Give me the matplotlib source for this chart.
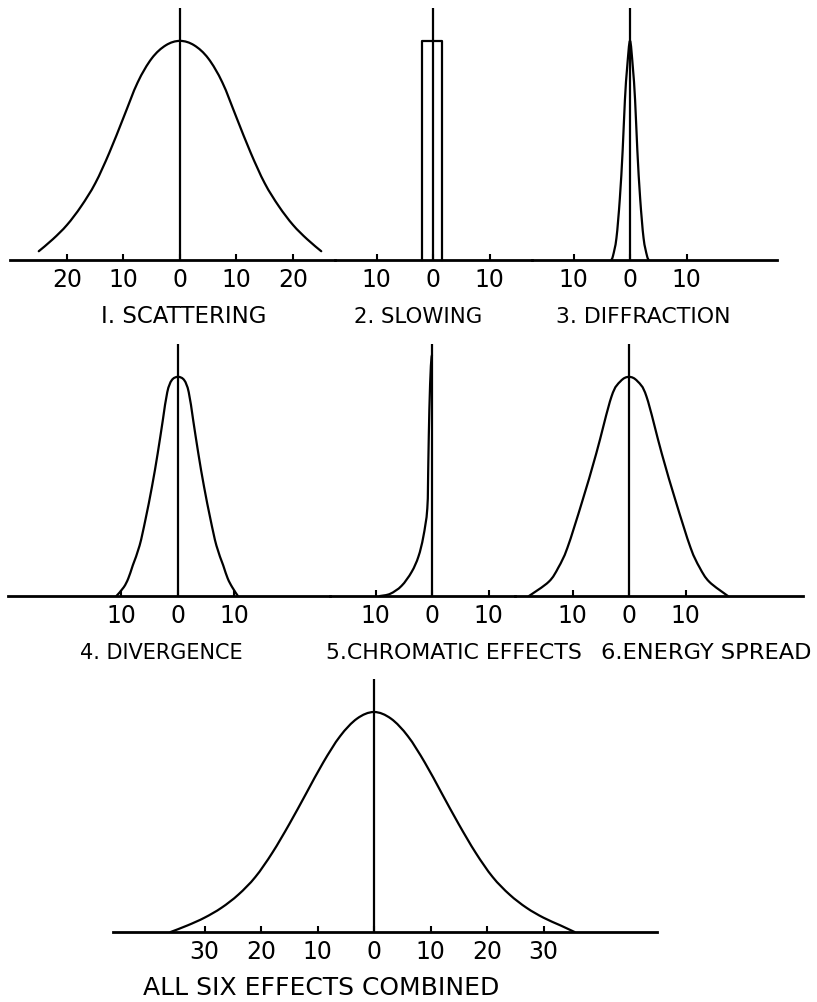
import matplotlib
matplotlib.use("Agg")
import matplotlib.pyplot as plt
from matplotlib.path import Path
from matplotlib.patches import PathPatch

# ---------------- data (x in the drawing's units, y relative to peak) -------------
scat_x = [-25, -22.5, -20, -17.5, -15, -12.5, -10, -7.5, -5, -2.5, 0,
          2.5, 5, 7.5, 10, 12.5, 15, 17.5, 20, 22.5, 25]
scat_y = [0.04, 0.095, 0.16, 0.245, 0.35, 0.49, 0.65, 0.81, 0.92, 0.98, 1.0,
          0.98, 0.92, 0.81, 0.65, 0.49, 0.35, 0.245, 0.16, 0.095, 0.04]

slow_x = [-1.95, -1.95, 1.6, 1.6]
slow_y = [0.0, 1.0, 1.0, 0.0]

diff_x = [-3.3, -3.0, -2.4, -1.8, -1.3, -0.9, -0.5, 0, 0.5, 0.9, 1.3, 1.8, 2.4, 3.0, 3.3]
diff_y = [0.0, 0.02, 0.10, 0.28, 0.50, 0.73, 0.88, 1.0, 0.88, 0.73, 0.50, 0.28, 0.10, 0.02, 0.0]

div_x = [-10.9, -9.6, -8.8, -8.0, -6.8, -5.75, -4.6, -3.6, -2.7, -1.9, -1.1, 0,
         1.1, 1.9, 2.7, 3.6, 4.6, 5.75, 6.8, 8.0, 8.8, 9.6, 10.6]
div_y = [0.0, 0.04, 0.08, 0.14, 0.23, 0.35, 0.50, 0.65, 0.80, 0.93, 0.985, 1.0,
         0.985, 0.93, 0.80, 0.65, 0.50, 0.35, 0.23, 0.14, 0.08, 0.04, 0.0]

chrom_x = [-9.2, -7.4, -5.4, -3.6, -2.4, -1.54, -0.83, -0.65, -0.47, -0.2, 0.0]
chrom_y = [0.0, 0.01, 0.046, 0.11, 0.18, 0.27, 0.40, 0.61, 0.85, 1.05, 1.1]

en_x = [-17.7, -14.2, -12.5, -10.9, -8.3, -5.8, -3.1, -1.5, 0,
        1.5, 3.1, 5.8, 8.3, 10.9, 12.5, 14.2, 17.5]
en_y = [0.0, 0.065, 0.13, 0.22, 0.43, 0.65, 0.91, 0.98, 1.0,
        0.98, 0.91, 0.65, 0.43, 0.22, 0.13, 0.065, 0.0]

comb_x = [-36, -33, -30, -27, -24, -21, -18, -15, -12, -9, -6, -3, 0,
          3, 6, 9, 12, 15, 18, 21, 24, 27, 30, 33, 35.5]
comb_y = [0.0, 0.03, 0.065, 0.11, 0.17, 0.25, 0.36, 0.49, 0.63, 0.77, 0.89, 0.97, 1.0,
          0.97, 0.89, 0.77, 0.63, 0.49, 0.36, 0.25, 0.17, 0.11, 0.065, 0.03, 0.0]

ticks_wide = [-20, -10, 0, 10, 20]
ticks_small = [-10, 0, 10]
ticks_comb = [-30, -20, -10, 0, 10, 20, 30]

titles = ["I. SCATTERING", "2. SLOWING", "3. DIFFRACTION",
          "4. DIVERGENCE", "5.CHROMATIC EFFECTS", "6.ENERGY SPREAD",
          "ALL SIX EFFECTS COMBINED"]

# ---------------- layout ----------------
W, H = 817, 1003
PX = 5.65  # pixels per unit
fig = plt.figure(figsize=(W / 100, H / 100), dpi=100)
fig.patch.set_facecolor("white")
plt.rcParams["font.family"] = ["DejaVu Sans"]

LW = 1.6


def smooth_path(xs, ys):
    """Catmull-Rom curve through the read points, as cubic Bezier path."""
    pts = list(zip(xs, ys))
    verts = [pts[0]]
    codes = [Path.MOVETO]
    n = len(pts)
    for i in range(n - 1):
        p0 = pts[i - 1] if i > 0 else pts[i]
        p1 = pts[i]
        p2 = pts[i + 1]
        p3 = pts[i + 2] if i + 2 < n else pts[i + 1]
        c1 = (p1[0] + (p2[0] - p0[0]) / 6, p1[1] + (p2[1] - p0[1]) / 6)
        c2 = (p2[0] - (p3[0] - p1[0]) / 6, p2[1] - (p3[1] - p1[1]) / 6)
        verts += [c1, c2, p2]
        codes += [Path.CURVE4] * 3
    return Path(verts, codes)


def panel(left, right, center, top, bottom, xs, ys, ticks, smooth=True):
    ax = fig.add_axes([left / W, 1 - bottom / H, (right - left) / W, (bottom - top) / H])
    ax.set_xlim((left - center) / PX, (right - center) / PX)
    ax.set_ylim(0, 1.15)
    for s in ("top", "left", "right"):
        ax.spines[s].set_visible(False)
    ax.spines["bottom"].set_linewidth(2.0)
    ax.set_yticks([])
    ax.set_xticks(ticks)
    ax.set_xticklabels([str(abs(t)) for t in ticks])
    ax.tick_params(axis="x", direction="in", length=4, width=1.5, pad=5,
                   labelsize=17)
    ax.axvline(0, color="black", lw=LW, ymin=0, ymax=1)
    if smooth:
        ax.add_patch(PathPatch(smooth_path(xs, ys), facecolor="none",
                               edgecolor="black", lw=LW, capstyle="round",
                               joinstyle="round", clip_on=False))
    else:
        ax.plot(xs, ys, color="black", lw=LW, clip_on=False)
    ax.patch.set_alpha(0)
    return ax


# row 1
panel(10, 335, 180, 9, 261, scat_x, scat_y, ticks_wide)
panel(335, 532, 433, 9, 261, slow_x, slow_y, ticks_small, smooth=False)
panel(532, 777, 630, 9, 261, diff_x, diff_y, ticks_small)
# row 2
panel(8, 330, 178, 345, 597, div_x, div_y, ticks_small)
panel(330, 515, 432, 345, 597, chrom_x, chrom_y, ticks_small)
panel(515, 803, 629, 345, 597, en_x, en_y, ticks_small)
# row 3
panel(113, 657, 374, 680, 933, comb_x, comb_y, ticks_comb)

# (center x, baseline y) in pixels
title_pos = [(184, 323), (418, 323), (643, 323),
             (161, 659), (454, 659), (706, 659), (321, 995)]
title_size = [16.5, 15.3, 15.8, 15.0, 15.8, 16.2, 18]
for t, (x, y), fs in zip(titles, title_pos, title_size):
    fig.text(x / W, 1 - y / H, t, ha="center", va="baseline", fontsize=fs)

fig.savefig("out.png", dpi=100, facecolor="white")
